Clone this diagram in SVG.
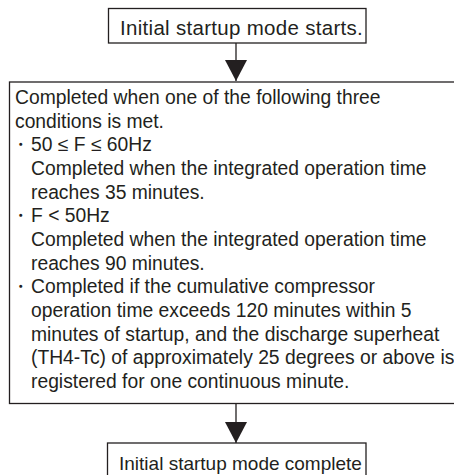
<svg xmlns="http://www.w3.org/2000/svg" width="454" height="475" viewBox="0 0 454 475">
<defs>
<style>
.box{fill:#fff;stroke:#231f20;stroke-width:1.3}
.t{font-family:"Liberation Sans",Arial,sans-serif;font-size:19.3px;fill:#231f20}
.conn{stroke:#231f20;stroke-width:1.3;fill:none}
</style>
<marker id="ah" markerUnits="userSpaceOnUse" markerWidth="22" markerHeight="22" refX="21" refY="11" orient="auto" viewBox="0 0 22 22">
<path d="M0,0 L21,11 L0,22 Z" fill="#231f20"/>
</marker>
</defs>
<g id="connectors">
<line class="conn" x1="236" y1="43" x2="236" y2="81" marker-end="url(#ah)"/>
<line class="conn" x1="236" y1="403.5" x2="236" y2="443" marker-end="url(#ah)"/>
</g>
<g id="start">
<rect class="box" x="108.5" y="8.5" width="257.5" height="34.5"/>
<text class="t" x="120" y="35" style="font-size:20.5px;letter-spacing:0.3px">Initial startup mode starts.</text>
</g>
<g id="conditions">
<rect class="box" x="9.5" y="82" width="446" height="321.5"/>
<text class="t">
<tspan x="15" y="104">Completed when one of the following three</tspan>
<tspan x="15" y="127.7">conditions is met.</tspan>
<tspan x="11" y="151.3">・</tspan><tspan x="31" y="151.3">50 ≤ F ≤ 60Hz</tspan>
<tspan x="31" y="175">Completed when the integrated operation time</tspan>
<tspan x="31" y="198.7">reaches 35 minutes.</tspan>
<tspan x="11" y="222.3">・</tspan><tspan x="31" y="222.3">F &lt; 50Hz</tspan>
<tspan x="31" y="246">Completed when the integrated operation time</tspan>
<tspan x="31" y="269.7">reaches 90 minutes.</tspan>
<tspan x="11" y="293.3">・</tspan><tspan x="31" y="293.3">Completed if the cumulative compressor</tspan>
<tspan x="31" y="317">operation time exceeds 120 minutes within 5</tspan>
<tspan x="31" y="340.7">minutes of startup, and the discharge superheat</tspan>
<tspan x="31" y="364.3">(TH4-Tc) of approximately 25 degrees or above is</tspan>
<tspan x="31" y="388">registered for one continuous minute.</tspan>
</text>
</g>
<g id="complete">
<rect class="box" x="107.5" y="443" width="258.5" height="40"/>
<text class="t" x="119" y="470" style="font-size:19px">Initial startup mode complete</text>
</g>
</svg>
